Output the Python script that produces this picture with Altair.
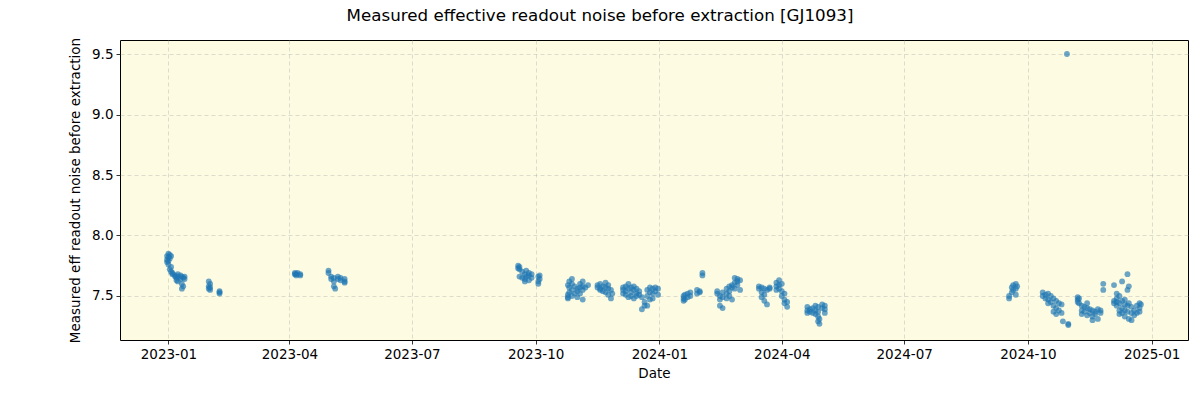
import altair as alt
import pandas as pd

# Observation nights and measured effective readout noise (values per night)
days_2023 = [
    "2022-12-31", "2023-01-01", "2023-01-02", "2023-01-03", "2023-01-04", "2023-01-06",
    "2023-01-07", "2023-01-08", "2023-01-10", "2023-01-11", "2023-01-12", "2023-01-13",
    "2023-01-31", "2023-02-01", "2023-02-08",
    "2023-04-05", "2023-04-06", "2023-04-07", "2023-04-09",
    "2023-04-30", "2023-05-02", "2023-05-04", "2023-05-05", "2023-05-07", "2023-05-09", "2023-05-12",
    "2023-09-18", "2023-09-19", "2023-09-21", "2023-09-23", "2023-09-24", "2023-09-26",
    "2023-09-28", "2023-10-03", "2023-10-04",
    "2023-10-25", "2023-10-26", "2023-10-28", "2023-10-30", "2023-11-01", "2023-11-03",
    "2023-11-05", "2023-11-07", "2023-11-09",
    "2023-11-16", "2023-11-18", "2023-11-20", "2023-11-22", "2023-11-24", "2023-11-26", "2023-11-27",
    "2023-12-05", "2023-12-07", "2023-12-09", "2023-12-11", "2023-12-13", "2023-12-15",
    "2023-12-17", "2023-12-19", "2023-12-21",
    "2023-12-23", "2023-12-25", "2023-12-27", "2023-12-29", "2023-12-31",
]
vals_2023 = [
    [7.80, 7.78, 7.83], [7.85, 7.82, 7.79, 7.76], [7.84, 7.81, 7.72], [7.83, 7.70, 7.74],
    [7.69, 7.68], [7.67, 7.66], [7.65, 7.63], [7.68, 7.66, 7.62], [7.67, 7.64],
    [7.66, 7.60, 7.56], [7.58, 7.65], [7.66, 7.64],
    [7.62, 7.58, 7.56], [7.60, 7.55, 7.57], [7.54, 7.52, 7.53],
    [7.68, 7.69], [7.67, 7.68], [7.69], [7.68, 7.67],
    [7.71, 7.69], [7.66, 7.64], [7.65, 7.62, 7.58], [7.56], [7.66, 7.64], [7.65, 7.63],
    [7.64, 7.61, 7.62],
    [7.75, 7.73], [7.74, 7.72, 7.66], [7.70, 7.65], [7.68, 7.62, 7.64], [7.71, 7.66],
    [7.69, 7.63, 7.67], [7.68, 7.65], [7.66, 7.62, 7.60], [7.67, 7.64],
    [7.51, 7.49, 7.48, 7.59], [7.62, 7.57, 7.53], [7.64, 7.60, 7.55, 7.50], [7.58, 7.52],
    [7.56, 7.54, 7.49], [7.60, 7.57, 7.52], [7.62, 7.58, 7.55, 7.47], [7.57], [7.59],
    [7.59, 7.57], [7.60, 7.56, 7.55], [7.58, 7.54], [7.61, 7.57, 7.53], [7.59, 7.56, 7.51],
    [7.55, 7.48], [7.52],
    [7.57, 7.55, 7.52], [7.58, 7.54, 7.51], [7.60, 7.56, 7.49], [7.57, 7.53, 7.50],
    [7.58, 7.55, 7.48], [7.56, 7.52, 7.50], [7.54, 7.51], [7.49, 7.39], [7.45, 7.42],
    [7.55, 7.50, 7.42], [7.57, 7.53, 7.47], [7.56, 7.52, 7.48], [7.57, 7.54], [7.56, 7.51],
]

days_2024 = [
    "2024-01-19", "2024-01-20", "2024-01-22", "2024-01-24", "2024-01-29", "2024-01-31", "2024-02-02",
    "2024-02-13", "2024-02-15", "2024-02-17", "2024-02-20", "2024-02-22", "2024-02-24",
    "2024-02-26", "2024-02-28", "2024-03-01",
    "2024-03-15", "2024-03-17", "2024-03-19", "2024-03-21", "2024-03-23",
    "2024-03-28", "2024-03-30", "2024-04-01", "2024-04-03", "2024-04-05",
    "2024-04-20", "2024-04-22", "2024-04-24", "2024-04-26", "2024-04-28", "2024-04-29",
    "2024-05-01", "2024-05-03",
    "2024-09-17", "2024-09-19", "2024-09-20", "2024-09-22", "2024-09-23",
    "2024-10-12", "2024-10-14", "2024-10-16", "2024-10-18", "2024-10-20", "2024-10-22",
    "2024-10-24", "2024-10-26", "2024-10-27", "2024-10-30", "2024-10-31",
    "2024-11-07", "2024-11-08", "2024-11-10", "2024-11-12", "2024-11-14", "2024-11-16",
    "2024-11-18", "2024-11-20", "2024-11-22", "2024-11-24", "2024-11-26",
    "2024-12-04", "2024-12-06", "2024-12-08", "2024-12-10", "2024-12-12", "2024-12-14",
    "2024-12-15", "2024-12-17", "2024-12-19", "2024-12-21", "2024-12-23", "2024-12-24",
]
vals_2024 = [
    [7.50, 7.48, 7.46], [7.51, 7.47], [7.52, 7.49], [7.53, 7.50], [7.55, 7.52], [7.54, 7.53],
    [7.69, 7.67],
    [7.54, 7.52], [7.50, 7.47, 7.42], [7.53, 7.49, 7.40], [7.56, 7.52, 7.48], [7.58, 7.54, 7.50],
    [7.59, 7.57, 7.47], [7.65, 7.61, 7.56], [7.64, 7.62, 7.59], [7.63, 7.55],
    [7.58, 7.56], [7.57, 7.53, 7.49], [7.56, 7.51, 7.46], [7.55, 7.43], [7.57, 7.56],
    [7.61, 7.58, 7.55], [7.63, 7.59, 7.56], [7.60, 7.54, 7.50], [7.52, 7.47, 7.44], [7.45, 7.41],
    [7.41, 7.38, 7.36], [7.39, 7.37], [7.40, 7.36], [7.42, 7.38, 7.35], [7.41, 7.37, 7.33, 7.29],
    [7.31, 7.27], [7.43, 7.40], [7.42, 7.39, 7.36],
    [7.50, 7.48], [7.57, 7.53], [7.59, 7.55], [7.60, 7.56, 7.51], [7.58],
    [7.53, 7.50], [7.51, 7.48], [7.52, 7.47, 7.44], [7.50, 7.45], [7.48, 7.42, 7.37],
    [7.46, 7.40, 7.35], [7.44, 7.38], [7.43, 7.36], [7.29], [9.50], [7.27, 7.26],
    [7.49, 7.47, 7.45], [7.48, 7.44], [7.42, 7.38, 7.35], [7.41, 7.37], [7.44, 7.40, 7.34],
    [7.39, 7.36], [7.38, 7.33, 7.30], [7.37, 7.35], [7.39, 7.31], [7.38, 7.36], [7.60, 7.55],
    [7.59, 7.46, 7.44], [7.52, 7.48, 7.45, 7.42], [7.50, 7.44, 7.38, 7.35],
    [7.62, 7.46, 7.40, 7.36], [7.47, 7.43, 7.38, 7.33], [7.68, 7.55, 7.42, 7.37],
    [7.58, 7.44, 7.31], [7.41, 7.36, 7.30], [7.38, 7.34], [7.42, 7.36], [7.44, 7.40, 7.37],
    [7.43],
]

x_ticks = ["2023-01-01", "2023-04-01", "2023-07-01", "2023-10-01",
           "2024-01-01", "2024-04-01", "2024-07-01", "2024-10-01", "2025-01-01"]
y_ticks = [7.5, 8.0, 8.5, 9.0, 9.5]

rows = []
for days, vals in ((days_2023, vals_2023), (days_2024, vals_2024)):
    for d, vs in zip(days, vals):
        for v in vs:
            rows.append({"date": d, "noise": v})
df = pd.DataFrame(rows)

FONT = "DejaVu Sans"

chart = (
    alt.Chart(df)
    .mark_circle(size=34, color="#1f77b4", opacity=0.65)
    .encode(
        x=alt.X(
            "date:T",
            title="Date",
            scale=alt.Scale(type="utc", domain=["2022-11-26", "2025-01-28"], nice=False),
            axis=alt.Axis(
                values=[pd.Timestamp(t).value // 10**6 for t in x_ticks],
                labelExpr="utcFormat(datum.value, '%Y-%m')",
                labelAngle=0,
                titlePadding=6,
            ),
        ),
        y=alt.Y(
            "noise:Q",
            title="Measured eff readout noise before extraction",
            scale=alt.Scale(domain=[7.136, 9.616], nice=False, zero=False),
            axis=alt.Axis(values=y_ticks, format=".1f", titlePadding=9),
        ),
    )
    .properties(
        width=1068,
        height=300,
        autosize=alt.AutoSizeParams(type="none"),
        padding={"left": 120, "top": 40, "right": 12, "bottom": 60},
        title=alt.TitleParams(
            "Measured effective readout noise before extraction [GJ1093]",
            fontSize=16.7,
            fontWeight="normal",
            font=FONT,
            color="black",
            anchor="middle",
            dx=-54,
            offset=0,
            baseline="alphabetic",
        ),
        background="white",
    )
    .configure_view(fill="#fdfbe1", stroke="black", strokeWidth=1)
    .configure_axis(
        labelFont=FONT,
        titleFont=FONT,
        labelFontSize=13.5,
        titleFontSize=13.5,
        titleFontWeight="normal",
        labelColor="black",
        titleColor="black",
        domain=False,
        tickColor="black",
        tickSize=4,
        tickWidth=0.8,
        labelPadding=3,
        grid=True,
        gridColor="#b0b0b0",
        gridOpacity=0.55,
        gridDash=[4, 3],
        gridWidth=0.8,
    )
)

chart.save("out.html", embed_options={"renderer": "svg", "actions": False})
